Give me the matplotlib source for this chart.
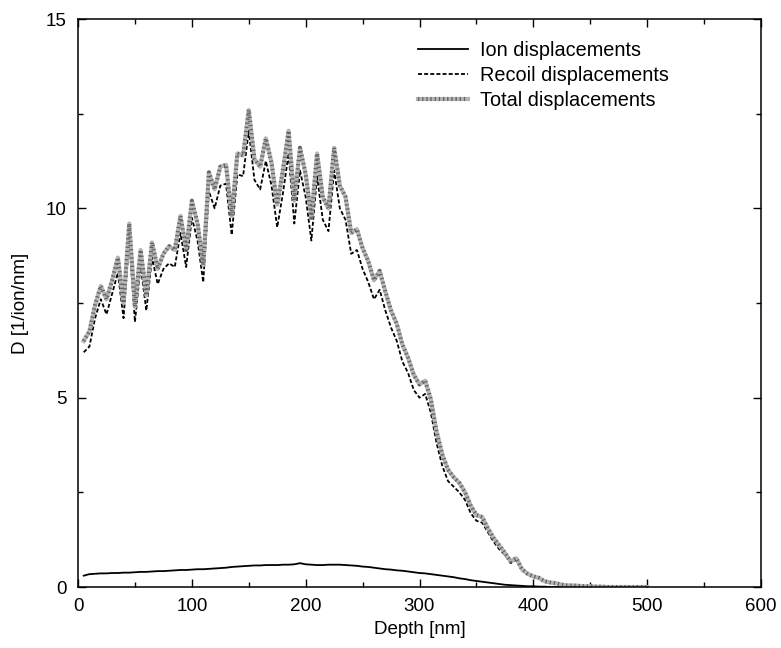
#!/usr/bin/env python3
# -*- coding: utf-8 -*-
"""
Displacement depth profile (ion / recoil / total)
"""

import numpy as np

import matplotlib
matplotlib.use('Agg')
import matplotlib.pyplot as plt
from matplotlib.legend_handler import HandlerTuple
from matplotlib.ticker import MultipleLocator

plt.rcParams['font.family'] = ['Liberation Sans', 'DejaVu Sans']

#%% data, 5 nm depth bins
depth = np.arange(5, 505, 5)

total = [6.50, 6.75, 7.45, 7.95, 7.60, 8.10, 8.70, 7.50, 9.60, 7.40,
         8.90, 7.70, 9.10, 8.40, 8.80, 9.00, 8.90, 9.80, 8.90, 10.20,
         9.60, 8.50, 10.95, 10.50, 11.10, 11.15, 9.80, 11.45, 11.40, 12.60,
         11.30, 11.10, 11.85, 11.20, 10.10, 11.00, 12.05, 10.20, 11.60, 10.90,
         9.75, 11.45, 10.30, 10.00, 11.60, 10.60, 10.30, 9.35, 9.45, 8.95,
         8.60, 8.10, 8.35, 7.80, 7.30, 6.95, 6.40, 6.05, 5.60, 5.35,
         5.45, 4.95, 4.10, 3.50, 3.10, 2.90, 2.75, 2.50, 2.15, 1.90,
         1.85, 1.55, 1.30, 1.10, 0.90, 0.68, 0.76, 0.47, 0.35, 0.28,
         0.24, 0.15, 0.12, 0.10, 0.06, 0.04, 0.04, 0.03, 0.02, 0.02,
         0.01, 0.01, 0.00, 0.00, 0.00, 0.00, 0.00, 0.00, 0.00, 0.00]

recoil = [6.20, 6.35, 7.10, 7.60, 7.20, 7.75, 8.30, 7.10, 9.20, 7.00,
          8.50, 7.30, 8.70, 8.00, 8.40, 8.55, 8.45, 9.35, 8.45, 9.75,
          9.15, 8.05, 10.45, 10.00, 10.60, 10.65, 9.30, 10.90, 10.85, 12.05,
          10.75, 10.50, 11.25, 10.60, 9.50, 10.40, 11.45, 9.60, 11.00, 10.30,
          9.15, 10.85, 9.70, 9.40, 11.00, 10.00, 9.70, 8.80, 8.90, 8.40,
          8.05, 7.60, 7.85, 7.30, 6.85, 6.50, 5.95, 5.65, 5.20, 5.00,
          5.10, 4.60, 3.80, 3.20, 2.80, 2.65, 2.50, 2.30, 1.95, 1.75,
          1.70, 1.45, 1.20, 1.00, 0.85, 0.63, 0.72, 0.44, 0.33, 0.26,
          0.23, 0.14, 0.12, 0.10, 0.06, 0.04, 0.04, 0.03, 0.02, 0.02,
          0.01, 0.01, 0.00, 0.00, 0.00, 0.00, 0.00, 0.00, 0.00, 0.00]

ion = [0.30, 0.34, 0.35, 0.36, 0.36, 0.37, 0.37, 0.38, 0.38, 0.39,
       0.40, 0.40, 0.41, 0.42, 0.42, 0.43, 0.44, 0.45, 0.45, 0.46,
       0.47, 0.47, 0.48, 0.49, 0.50, 0.51, 0.53, 0.54, 0.55, 0.56,
       0.57, 0.57, 0.58, 0.58, 0.58, 0.59, 0.59, 0.60, 0.63, 0.60,
       0.59, 0.58, 0.58, 0.59, 0.59, 0.59, 0.58, 0.57, 0.56, 0.54,
       0.53, 0.51, 0.49, 0.47, 0.46, 0.44, 0.43, 0.41, 0.39, 0.37,
       0.36, 0.34, 0.32, 0.30, 0.28, 0.26, 0.23, 0.21, 0.18, 0.16,
       0.14, 0.12, 0.10, 0.08, 0.06, 0.05, 0.04, 0.03, 0.02, 0.02,
       0.01, 0.01, 0.00, 0.00, 0.00, 0.00, 0.00, 0.00, 0.00, 0.00,
       0.00, 0.00, 0.00, 0.00, 0.00, 0.00, 0.00, 0.00, 0.00, 0.00]

labels = ['Ion displacements', 'Recoil displacements', 'Total displacements']

#%% plot
fig = plt.figure(figsize=(7.81, 6.48), dpi=100)
ax = fig.add_axes([0.0999, 0.0941, 0.8745, 0.8765])

l_ion, = ax.plot(depth, ion, '-', color='black', lw=1.3)
l_rec, = ax.plot(depth, recoil, color='black', lw=1.3, dashes=(2.2, 1.2))
# stippled grey band for total
l_tot1, = ax.plot(depth, total, color='#b4b4b4', lw=3.0)
l_tot2, = ax.plot(depth, total, color='black', lw=3.0, alpha=0.45,
                  dashes=(0.3, 0.7))

ax.set_xlim(0, 600)
ax.set_ylim(0, 15)
ax.xaxis.set_major_locator(MultipleLocator(100))
ax.xaxis.set_minor_locator(MultipleLocator(50))
ax.yaxis.set_major_locator(MultipleLocator(5))
ax.yaxis.set_minor_locator(MultipleLocator(2.5))
ax.tick_params(which='both', direction='in', top=True, right=True,
               labelsize=13.5, width=1.0)
ax.tick_params(which='major', length=6, pad=8)
ax.tick_params(which='minor', length=3.5)
for s in ax.spines.values():
    s.set_linewidth(1.1)

ax.set_xlabel('Depth [nm]', fontsize=13.5, labelpad=4)
ax.set_ylabel('D [1/ion/nm]', fontsize=13.5, labelpad=12)

ax.legend([l_ion, l_rec, (l_tot1, l_tot2)], labels,
          handler_map={tuple: HandlerTuple(ndivide=1)},
          loc='upper left', bbox_to_anchor=(0.498, 0.962),
          frameon=False, fontsize=14.3, handlelength=2.5,
          handletextpad=0.6, labelspacing=0.3, borderpad=0,
          borderaxespad=0)

plt.savefig('out.png', dpi=100)
